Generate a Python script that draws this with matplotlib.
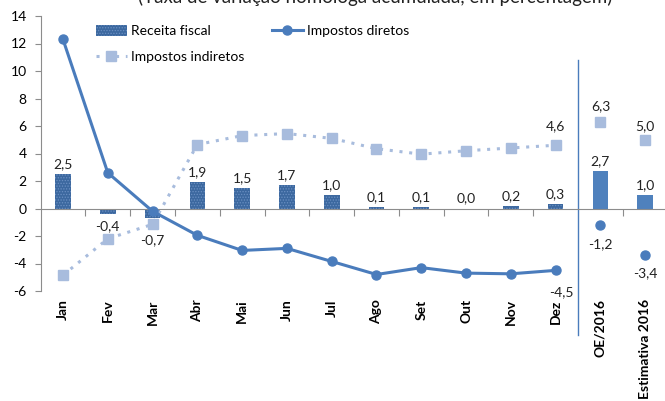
import matplotlib
matplotlib.use("Agg")
import matplotlib.pyplot as plt
from matplotlib.patches import Patch
from matplotlib.lines import Line2D

plt.rcParams['font.family'] = ['Lato', 'DejaVu Sans']
plt.rcParams['hatch.color'] = '#6A8FC2'
plt.rcParams['hatch.linewidth'] = 0.6

categories = ["Jan", "Fev", "Mar", "Abr", "Mai", "Jun", "Jul", "Ago", "Set", "Out",
              "Nov", "Dez", "OE/2016", "Estimativa 2016"]
receita = [2.5, -0.4, -0.7, 1.9, 1.5, 1.7, 1.0, 0.1, 0.1, 0.0, 0.2, 0.3, 2.7, 1.0]
diretos = [12.3, 2.6, -0.2, -1.95, -3.05, -2.9, -3.85, -4.8, -4.3, -4.7, -4.75, -4.5, -1.2, -3.4]
indiretos = [-4.85, -2.2, -1.15, 4.65, 5.3, 5.45, 5.1, 4.35, 3.95, 4.2, 4.4, 4.6, 6.3, 5.0]
yticks = [-6, -4, -2, 0, 2, 4, 6, 8, 10, 12, 14]
series_names = ["Receita fiscal", "Impostos diretos", "Impostos indiretos"]
title = "(Taxa de variação homóloga acumulada, em percentagem)"

W, H = 665, 401
fig = plt.figure(figsize=(W / 100, H / 100), dpi=100)
ax = fig.add_axes([40.6 / W, (H - 291) / H, 627 / W, 275 / H])

n = len(categories)
nm = 12
x = list(range(n))
dark = '#3C689F'
light = '#4F81BD'
c_dir = '#4A7CBC'
c_ind = '#A8BCDD'

# bars
for i in range(n):
    if i < nm:
        ax.bar(x[i], receita[i], width=0.35, color=dark, hatch='......', linewidth=0, zorder=2)
    else:
        ax.bar(x[i], receita[i], width=0.35, color=light, linewidth=0, zorder=2)

# lines
ax.plot(x[:nm], indiretos[:nm], color=c_ind, lw=2.2, ls=(0, (1, 2.2)), zorder=3)
ax.plot(x[:nm], indiretos[:nm], ls='none', marker='s', ms=7, color=c_ind, zorder=4)
ax.plot(x[nm:], indiretos[nm:], ls='none', marker='s', ms=7, color=c_ind, zorder=4)
ax.plot(x[:nm], diretos[:nm], color=c_dir, lw=2.2, marker='o', ms=6.5, zorder=5)
ax.plot(x[nm:], diretos[nm:], ls='none', marker='o', ms=6.5, color=c_dir, zorder=5)

ax.set_xlim(-0.5, n - 0.5)
ax.set_ylim(-6, 14)
ax.set_yticks(yticks)
ax.set_yticklabels([str(t) for t in yticks], fontsize=10)

for s in ['top', 'right']:
    ax.spines[s].set_visible(False)
ax.spines['left'].set_color('#8C8C8C')
ax.spines['bottom'].set_position(('data', 0))
ax.spines['bottom'].set_color('#8C8C8C')
ax.tick_params(axis='y', length=4, color='#8C8C8C', pad=6)
bounds = [i + 0.5 for i in range(n - 1) if i != nm - 1]
ax.set_xticks(bounds)
ax.set_xticklabels([])
ax.tick_params(axis='x', length=5, direction='out', color='#8C8C8C')

# category labels
for i, c in enumerate(categories):
    ax.text(x[i], -6.6, c, rotation=90, ha='center', va='top', fontsize=10,
            fontweight='bold', clip_on=False)

# separator
ax.plot([nm - 0.5, nm - 0.5], [10.8, -9.2], color='#4A7CBC', lw=1, clip_on=False, zorder=1)

def fmt(v):
    return f"{v:.1f}".replace('.', ',')

k = 0.72
# bar labels
for i in range(n):
    v = receita[i]
    if i == 2:
        off = -22
    elif v < 0:
        off = -12
    else:
        off = 10
    ax.annotate(fmt(v), (x[i], v), xytext=(0, off * k), textcoords='offset points',
                ha='center', va='center', fontsize=10, color='#222222', zorder=6)

# direct labels
for i, dx, dy in [(11, 6, -22), (12, 0, -19), (13, 0, -18)]:
    ax.annotate(fmt(diretos[i]), (x[i], diretos[i]), xytext=(dx * k, dy * k),
                textcoords='offset points', ha='center', va='center', fontsize=10,
                color='#222222', zorder=6)
# indirect labels
for i, dy in [(11, 19), (12, 16), (13, 14)]:
    ax.annotate(fmt(indiretos[i]), (x[i], indiretos[i]), xytext=(0, dy * k),
                textcoords='offset points', ha='center', va='center', fontsize=10,
                color='#222222', zorder=6)

# legend (three separately placed entries, like the original layout)
h_rec = Patch(facecolor=dark, hatch='......', linewidth=0)
h_dir = Line2D([], [], color=c_dir, lw=2.2, marker='o', ms=6.5)
h_ind = Line2D([], [], color=c_ind, lw=2.2, ls=(0, (1, 2.2)), marker='s', ms=7)
for h, lab, (lx, ly) in [(h_rec, series_names[0], (96, 31)),
                         (h_dir, series_names[1], (272, 31)),
                         (h_ind, series_names[2], (96, 57))]:
    fig.legend([h], [lab], frameon=False, fontsize=10, loc='center left',
               bbox_to_anchor=(lx / W, 1 - ly / H), handlelength=2.2, handletextpad=0.3,
               borderaxespad=0, borderpad=0, handleheight=0.9)

fig.text(375 / W, 1 - 3 / H, title, ha='center', va='baseline', fontsize=13.5, color='#222222')

fig.savefig("out.png", dpi=100)
